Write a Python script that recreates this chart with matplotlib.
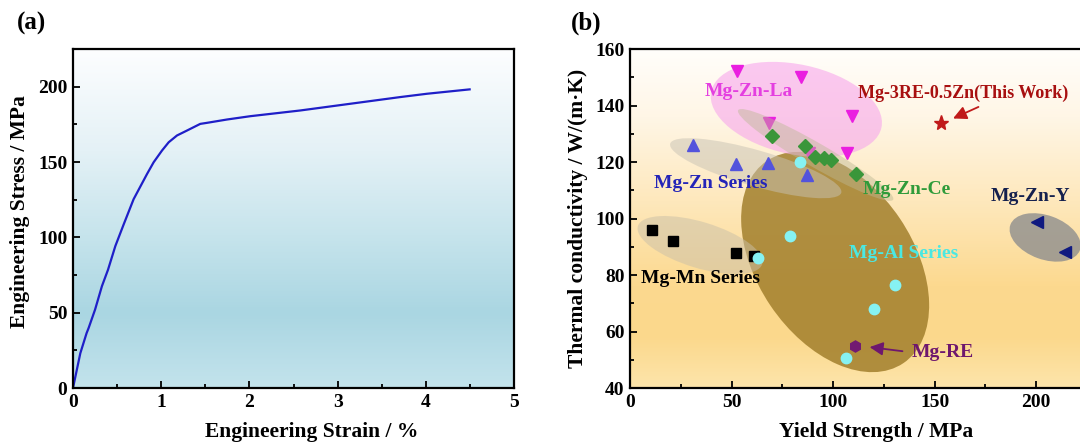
import numpy as np
import matplotlib
matplotlib.use("Agg")
import matplotlib.pyplot as plt
from matplotlib.patches import Ellipse
from matplotlib.colors import LinearSegmentedColormap
from matplotlib.transforms import ScaledTranslation
from matplotlib.ticker import MultipleLocator

plt.rcParams['font.family'] = ['Liberation Serif', 'DejaVu Serif']
plt.rcParams['font.weight'] = 'bold'
plt.rcParams['axes.labelweight'] = 'bold'

# (a) stress-strain curve
strain = [0, 0.083, 0.154, 0.177, 0.25, 0.328, 0.397, 0.48, 0.574, 0.687, 0.839, 0.914,
          1.009, 1.085, 1.179, 1.293, 1.443, 1.52, 1.746, 2.01, 2.577, 3.01, 3.711, 4.014, 4.497]
stress = [0, 23.1, 36.4, 39.8, 52, 67.6, 78.5, 94.2, 108.5, 125.3, 142, 149.8,
          157.6, 163.1, 167.6, 170.9, 175.3, 176, 178.2, 180.4, 184.2, 187.6, 193.1, 195.3, 198.2]

# (b) thermal conductivity vs yield strength
mn_x = [11, 21, 52.1, 61.1]
mn_y = [95.9, 92, 87.8, 86.7]
zn_x = [30.9, 52.1, 67.8, 87]
zn_y = [125.9, 119.2, 119.5, 115.4]
la_x = [52.9, 84.2, 109.5, 106.9, 68.3, 88.2]
la_y = [152.2, 150.2, 136.3, 123.3, 133.9, 123.3]
ce_x = [70, 86, 91.1, 95.4, 98.9, 111.2]
ce_y = [129.3, 125.7, 121.7, 121.4, 120.8, 115.8]
al_x = [83.9, 79, 62.9, 130.7, 120, 106.4]
al_y = [119.9, 93.9, 85.9, 76.5, 67.9, 50.6]
re_x, re_y = [111], [54.9]
tw_x, tw_y = [153], [133.9]
y_x = [200.3, 214.3]
y_y = [98.9, 88.2]

# highlight ellipses: centre (data), width/height (inch), angle
ell_centres = [(101, 84.6), (81.9, 138.6), (91.4, 122.5), (61.9, 117.8), (34.5, 90.6), (204.4, 93.3)]
ell_sizes = [(2.44, 1.56, -56), (1.74, 0.90, -12), (1.79, 0.24, -30), (1.78, 0.36, -16),
             (1.30, 0.46, -17), (0.74, 0.44, -20)]
ell_colors = [('#a27f2c', 0.85, 1), ('#f7a6ec', 0.6, 1), ('#bdb894', 0.45, 3),
              ('#c8c2b4', 0.5, 3), ('#c9bfa8', 0.5, 3), ('#8e8e8e', 0.8, 1)]

fig = plt.figure(figsize=(10.8, 4.44), dpi=100)
W, H = 1080, 444
ax1 = fig.add_axes([73 / W, 56 / H, 441 / W, 339 / H])
ax2 = fig.add_axes([630 / W, 56 / H, 457 / W, 339 / H])


def gradient(ax, stops, ext):
    cmap = LinearSegmentedColormap.from_list('g', stops)
    g = np.linspace(0, 1, 256).reshape(-1, 1)
    ax.imshow(g, cmap=cmap, extent=ext, aspect='auto', origin='upper', zorder=0)


# ---- panel (a)
gradient(ax1, [(0, '#fdfeff'), (0.3, '#e4f1f6'), (0.55, '#c6e4ec'), (0.78, '#aad6e2'), (1, '#c3e3ec')],
         [0, 5, 0, 225])
ax1.plot(strain, stress, color='#1f1fc8', lw=1.6, zorder=3)
ax1.set_xlim(0, 5)
ax1.set_ylim(0, 225)
ax1.xaxis.set_major_locator(MultipleLocator(1))
ax1.xaxis.set_minor_locator(MultipleLocator(0.5))
ax1.yaxis.set_major_locator(MultipleLocator(50))
ax1.yaxis.set_minor_locator(MultipleLocator(25))
ax1.set_xlabel('Engineering Strain / %', fontsize=15.5)
ax1.set_ylabel('Engineering Stress / MPa', fontsize=15.5)
ax1.xaxis.set_label_coords(0.542, -0.1)
ax1.yaxis.set_label_coords(-0.098, 0.52)
fig.text(17 / W, 1 - 23 / H, '(a)', fontsize=18, va='center', ha='left')

# ---- panel (b)
gradient(ax2, [(0, '#fffefb'), (0.2, '#fff6e6'), (0.45, '#fee8bc'), (0.7, '#fcd98f'), (0.85, '#fbd88c'), (1, '#fde5ab')],
         [0, 225, 40, 160])
for (cx, cy), (w, h, a), (c, al, z) in zip(ell_centres, ell_sizes, ell_colors):
    tr = fig.dpi_scale_trans + ScaledTranslation(cx, cy, ax2.transData)
    ax2.add_patch(Ellipse((0, 0), w, h, angle=a, transform=tr, facecolor=c, alpha=al,
                          edgecolor='none', zorder=z))

ax2.plot(la_x, la_y, 'v', color='#ea1fe0', ms=8.5, ls='none', zorder=2)
ax2.plot(mn_x, mn_y, 's', color='black', ms=7, ls='none', zorder=4)
ax2.plot(zn_x, zn_y, '^', color='#5353dc', ms=8.5, ls='none', zorder=4)
ax2.plot(ce_x, ce_y, 'D', color='#3a963a', ms=7, ls='none', zorder=4)
ax2.plot(al_x, al_y, 'o', color='#86f2f2', ms=7.5, ls='none', zorder=5)
ax2.plot(re_x, re_y, 'h', color='#721a72', ms=8, ls='none', zorder=5)
ax2.plot(tw_x, tw_y, '*', color='#c01a1a', ms=11, ls='none', zorder=5)
ax2.plot(y_x, y_y, '<', color='#101a80', ms=8, ls='none', zorder=5)

lab = dict(fontsize=14, ha='center', va='center', zorder=6)
ax2.text(58.6, 144.9, 'Mg-Zn-La', color='#e43fe0', **lab)
ax2.text(39.9, 112.5, 'Mg-Zn Series', color='#2424b8', **lab)
ax2.text(136.3, 110.3, 'Mg-Zn-Ce', color='#2f9b3a', **lab)
ax2.text(197.3, 107.8, 'Mg-Zn-Y', color='#14204e', **lab)
ax2.text(134.6, 87.7, 'Mg-Al Series', color='#4ae8e2', **lab)
ax2.text(34.5, 78.8, 'Mg-Mn Series', color='black', **lab)
ax2.text(138.8, 52.6, 'Mg-RE', color='#6e176e', fontsize=14, ha='left', va='center', zorder=6)
ax2.text(112.5, 144.3, 'Mg-3RE-0.5Zn(This Work)', color='#a81010', fontsize=13,
         ha='left', va='center', zorder=6)
ax2.annotate('', xy=(157.8, 135.0), xytext=(172.8, 139.9),
             arrowprops=dict(arrowstyle='-|>', color='#c01a1a', lw=1.3, mutation_scale=20), zorder=6)
ax2.annotate('', xy=(116.6, 54.6), xytext=(135.5, 52.9),
             arrowprops=dict(arrowstyle='-|>', color='#6e176e', lw=1.3, mutation_scale=20), zorder=6)

ax2.set_xlim(0, 225)
ax2.set_ylim(40, 160)
ax2.xaxis.set_major_locator(MultipleLocator(50))
ax2.xaxis.set_minor_locator(MultipleLocator(25))
ax2.yaxis.set_major_locator(MultipleLocator(20))
ax2.yaxis.set_minor_locator(MultipleLocator(10))
ax2.set_xlabel('Yield Strength / MPa', fontsize=15.5)
ax2.set_ylabel('Thermal conductivity / W/(m·K)', fontsize=15.5)
ax2.xaxis.set_label_coords(0.538, -0.1)
ax2.yaxis.set_label_coords(-0.092, 0.5)
fig.text(571 / W, 1 - 23 / H, '(b)', fontsize=18, va='center', ha='left')

for ax in (ax1, ax2):
    ax.tick_params(which='both', direction='in', labelsize=14, width=1.3, pad=4)
    ax.tick_params(which='major', length=5)
    ax.tick_params(which='minor', length=3)
    for s in ax.spines.values():
        s.set_linewidth(1.6)
        s.set_zorder(10)

fig.savefig('out.png', dpi=100)
